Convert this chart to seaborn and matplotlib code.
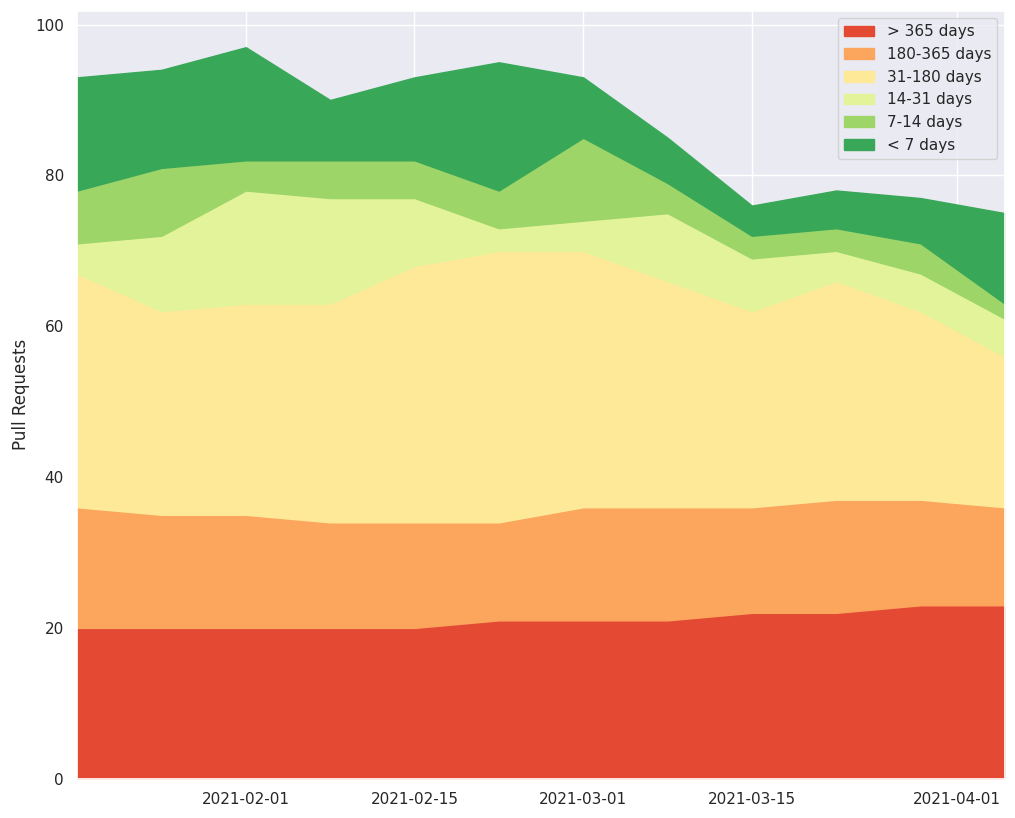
import pandas as pd
import matplotlib.pyplot as plt
import seaborn as sns

sns.set_theme(style="darkgrid")

# DATA
dates = pd.date_range("2021-01-18", periods=12, freq="7D")
labels = ["> 365 days", "180-365 days", "31-180 days", "14-31 days", "7-14 days", "< 7 days"]
over_365 = [20, 20, 20, 20, 20, 21, 21, 21, 22, 22, 23, 23]
d180_365 = [16, 15, 15, 14, 14, 13, 15, 15, 14, 15, 14, 13]
d31_180 = [31, 27, 28, 29, 34, 36, 34, 30, 26, 29, 25, 20]
d14_31 = [4, 10, 15, 14, 9, 3, 4, 9, 7, 4, 5, 5]
d7_14 = [7, 9, 4, 5, 5, 5, 11, 4, 3, 3, 4, 2]
under_7 = [15, 13, 15, 8, 11, 17, 8, 6, 4, 5, 6, 12]

colors = sns.color_palette("RdYlGn", 6)

fig, ax = plt.subplots(figsize=(10.15, 8.18), dpi=100)
ax.stackplot(dates, over_365, d180_365, d31_180, d14_31, d7_14, under_7,
             labels=labels, colors=colors, edgecolor="face", linewidth=1)
ax.set_xlim(dates[0], dates[-1])
ticks = ["2021-02-01", "2021-02-15", "2021-03-01", "2021-03-15", "2021-04-01"]
ax.set_xticks(pd.to_datetime(ticks))
ax.set_xticklabels(ticks)
ax.set_ylabel("Pull Requests")
ax.legend(loc="upper right")

plt.subplots_adjust(left=0.076, right=0.99, top=0.987, bottom=0.048)
plt.savefig("out.png")
